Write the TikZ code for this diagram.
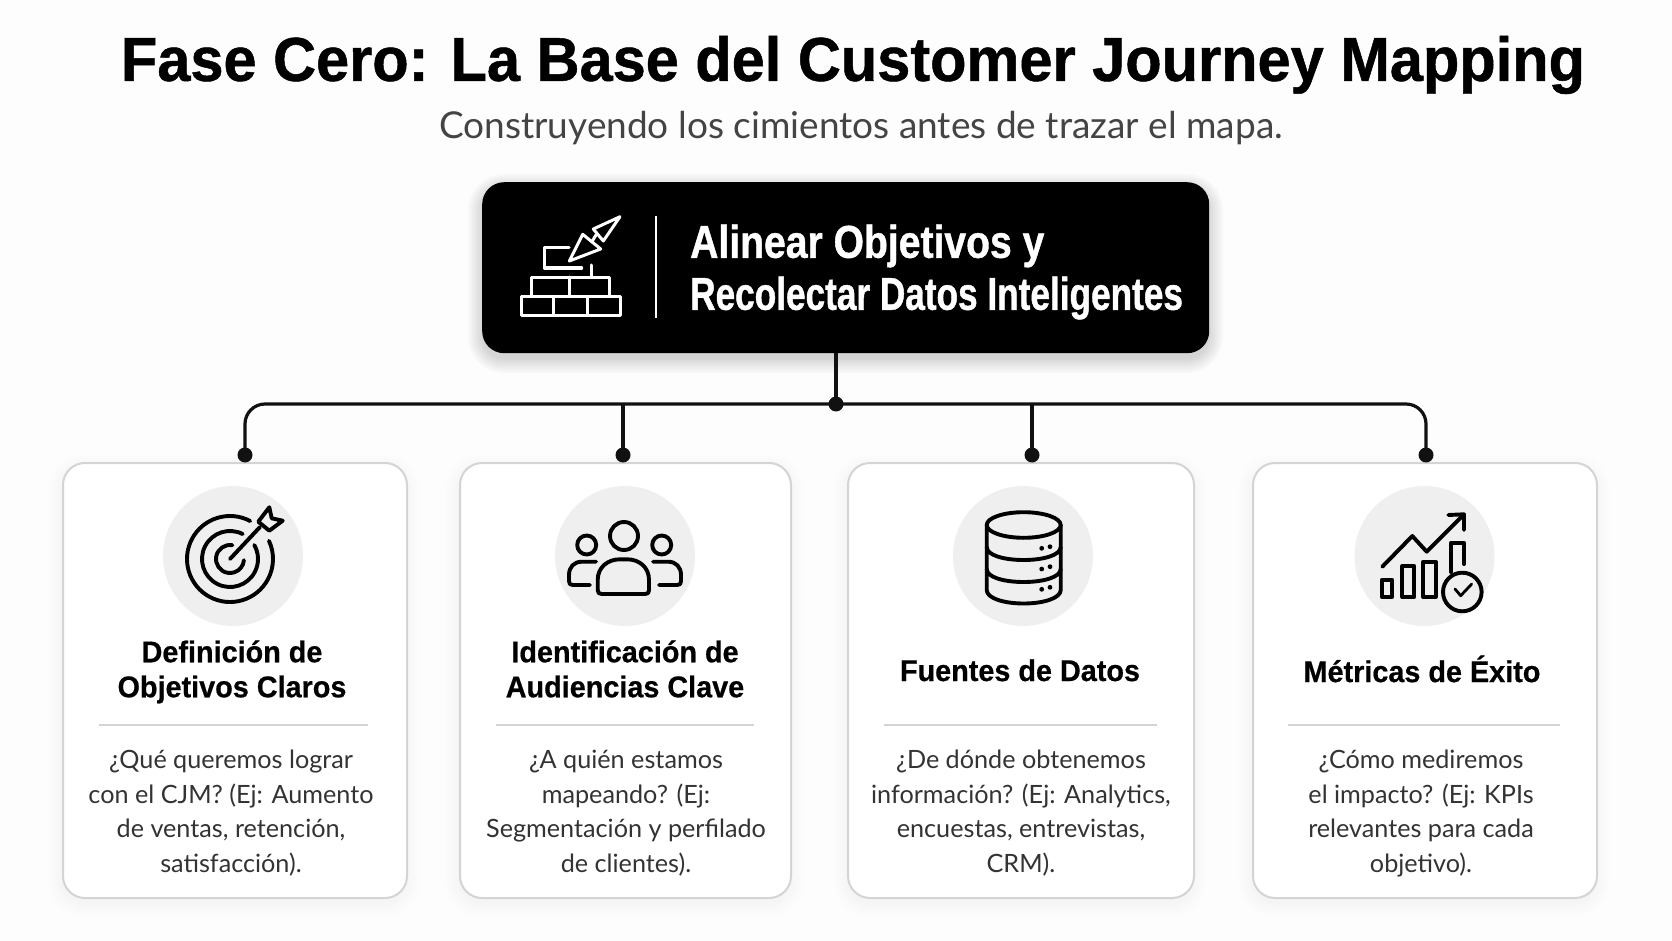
\documentclass[tikz,border=0pt]{standalone}
\usepackage{fontspec}
\setmainfont{Lato}
\newfontfamily\headfont{Liberation Sans}[BoldFeatures={FakeStretch=0.96,FakeBold=0.8}]
\newfontfamily\keyfont{Liberation Sans}[BoldFeatures={FakeStretch=0.765,FakeBold=0.9}]
\newfontfamily\keyfonta{Liberation Sans}[BoldFeatures={FakeStretch=0.85,FakeBold=0.9}]
\newfontfamily\cardfont{Liberation Sans}[BoldFeatures={FakeStretch=0.96,FakeBold=0.6}]
\definecolor{pagebg}{HTML}{FDFDFD}
\definecolor{cardline}{HTML}{D4D4D4}
\definecolor{discbg}{HTML}{EFEFEF}
\definecolor{inkc}{HTML}{111111}
\definecolor{bodyc}{HTML}{333333}
\definecolor{subc}{HTML}{444444}
\newcommand{\softshadow}[6]{%
  \foreach \sgrow in {0,2,...,14}{
    \fill[black,opacity=#6,rounded corners=#5+\sgrow*1pt]
      (#1-\sgrow,#2-\sgrow+6) rectangle (#3+\sgrow,#4+\sgrow+6);
  }}
\tikzset{
  x=1pt,y=-1pt,
  cardbox/.style={draw=cardline,line width=2pt,fill=white,rounded corners=22pt,inner sep=0pt,anchor=north west},
  keybox/.style={fill=black,rounded corners=22pt,inner sep=0pt,anchor=north west},
  disc/.style={circle,fill=discbg,minimum size=140pt,inner sep=0pt},
  conn/.style={draw=inkc,line width=3.2pt},
  jointdot/.style={circle,fill=inkc,minimum size=15pt,inner sep=0pt},
  titlet/.style={font=\cardfont\bfseries\fontsize{30}{35}\selectfont,text=black,align=center,inner sep=0pt,
    execute at begin node=\strut,execute at end node=\strut},
  bodyt/.style={font=\fontsize{25.2}{34.7}\selectfont,text=bodyc,align=center,inner sep=0pt,
    execute at begin node=\strut,execute at end node=\strut},
  rulel/.style={draw=cardline,line width=2pt},
  ico/.style={draw=black,line width=3.9pt,line cap=round,line join=round},
  icow/.style={draw=white,line width=3pt,line cap=round,line join=round},
}
\begin{document}
\begin{tikzpicture}
\useasboundingbox (0,0) rectangle (1672,941);
\fill[pagebg] (0,0) rectangle (1672,941);

\node[font=\headfont\bfseries\fontsize{62}{70}\selectfont,text=black,inner sep=0pt] (title) at (853,65) {Fase Cero: La Base del Customer Journey Mapping};
\node[font=\fontsize{37}{44}\selectfont,text=subc,inner sep=0pt] (subtitle) at (861,128) {Construyendo los cimientos antes de trazar el mapa.};

% shadows
\softshadow{482}{182}{1209}{353}{22}{0.018}
\softshadow{62}{462}{406}{897}{22}{0.004}
\softshadow{459}{462}{790}{897}{22}{0.004}
\softshadow{847}{462}{1193}{897}{22}{0.004}
\softshadow{1252}{462}{1596}{897}{22}{0.004}

% main box
\node[keybox,minimum width=727pt,minimum height=171pt] (key) at (482,182) {};
\draw[white,line width=2.4pt] (656,216) -- (656,318);
\node[font=\keyfont\bfseries\fontsize{46}{52}\selectfont,text=white,align=left,inner sep=0pt,anchor=west] (keytext) at (690,272) {{\keyfonta\bfseries Alinear Objetivos y}\\Recolectar Datos Inteligentes};

% brick wall and trowel
\draw[icow] (521.7,296.7) rectangle (620.7,315.7);
\draw[icow] (553.3,296.7) -- (553.3,315.7) (587.3,296.7) -- (587.3,315.7);
\draw[icow] (531.7,296.7) -- (531.7,277) -- (609,277) -- (609,296.7);
\draw[icow] (569,277) -- (569,296.7);
\draw[icow] (591,265) -- (591,277);
\draw[icow] (569,248) -- (544.3,248) -- (544.3,268) -- (581.7,268);
\draw[icow] (569.3,261) -- (582.7,234.3) -- (600.7,249) -- cycle;
\draw[icow] (593.3,229) -- (620,216.7) -- (603.3,241) -- cycle;
\draw[icow] (596,235) -- (591.7,242);

% cards
\node[cardbox,minimum width=344pt,minimum height=435pt] (c1) at (62,462) {};
\node[cardbox,minimum width=331pt,minimum height=435pt] (c2) at (459,462) {};
\node[cardbox,minimum width=346pt,minimum height=435pt] (c3) at (847,462) {};
\node[cardbox,minimum width=344pt,minimum height=435pt] (c4) at (1252,462) {};

% connectors
\node[jointdot] (hub) at (836,404) {};
\node[jointdot] (d1) at (245,455) {};
\node[jointdot] (d2) at (623,455) {};
\node[jointdot] (d3) at (1032,455) {};
\node[jointdot] (d4) at (1426,455) {};
\draw[conn] (key.south -| hub) -- (hub.center);
\draw[conn,rounded corners=20pt] (d1.center) |- (hub.center) -| (d4.center);
\draw[conn] (d2.center) -- (d2 |- hub);
\draw[conn] (d3.center) -- (d3 |- hub);

% discs
\node[disc] (i1) at (233,556) {};
\node[disc] (i2) at (625,556) {};
\node[disc] (i3) at (1023,556) {};
\node[disc] (i4) at (1424.5,556) {};

% target icon
\draw[ico] (230,559) ++(-62:43) arc[start angle=-62,delta angle=-323,radius=43];
\draw[ico] (230,559) ++(-63:28) arc[start angle=-63,delta angle=-327,radius=28];
\draw[ico] (230,559) ++(-80:14) arc[start angle=-80,delta angle=-275,radius=14];
\draw[ico] (230,559) -- (260,527);
\draw[ico] (258.3,521.7) -- (269.3,507.3) -- (271.7,518.3) -- (282.7,520.7) -- (269.3,530.7) -- cycle;

% people icon
\draw[ico] (624,536) circle[radius=14];
\draw[ico] (586.7,545) circle[radius=9.5];
\draw[ico] (661.7,545) circle[radius=9.5];
\draw[ico] (597.7,590) -- (597.7,580) .. controls (597.7,567) and (608,559.3) .. (620,559.3) -- (627,559.3) .. controls (639,559.3) and (649,567) .. (649,580) -- (649,590) .. controls (649,593) and (648,594) .. (645,594) -- (602,594) .. controls (599,594) and (597.7,593) .. (597.7,590) -- cycle;
\draw[ico] (596,561.7) -- (582,561.7) .. controls (574,561.7) and (569,567) .. (569,575) -- (569,581) .. controls (569,584) and (570,585) .. (573,585) -- (590,585);
\draw[ico] (653,561.7) -- (668,561.7) .. controls (676,561.7) and (681,567) .. (681,575) -- (681,581) .. controls (681,584) and (680,585) .. (677,585) -- (659,585);

% database icon
\draw[ico] (1023.7,525) ellipse[x radius=37,y radius=12.8];
\draw[ico] (986.7,525) -- (986.7,590) .. controls (986.7,598) and (1003,603.5) .. (1023.7,603.5) .. controls (1044,603.5) and (1060.7,598) .. (1060.7,590) -- (1060.7,525);
\draw[ico] (986.7,547) .. controls (986.7,555) and (1003,560) .. (1023.7,560) .. controls (1044,560) and (1060.7,555) .. (1060.7,547);
\draw[ico] (986.7,569) .. controls (986.7,577) and (1003,582) .. (1023.7,582) .. controls (1044,582) and (1060.7,577) .. (1060.7,569);
\fill[black] (1041.7,548.3) circle[radius=2.4] (1050,546.7) circle[radius=2.4]
  (1041.7,569) circle[radius=2.4] (1050,566.7) circle[radius=2.4]
  (1041.7,589.3) circle[radius=2.4] (1050,587.3) circle[radius=2.4];

% metrics icon
\draw[ico] (1382.3,566.7) -- (1412.3,536) -- (1426.7,551.7) -- (1463.3,515);
\draw[ico] (1448.3,515) -- (1464,514.3) -- (1464,530);
\draw[ico] (1381.7,580) rectangle (1392.3,596.7);
\draw[ico] (1402.3,566) rectangle (1414.3,597);
\draw[ico] (1423.3,561.7) rectangle (1435.7,597);
\draw[ico] (1451,572) -- (1451,542.7) -- (1464,542.7) -- (1464,564);
\draw[ico] (1462.3,592) circle[radius=19.3];
\draw[ico,line width=2.8pt] (1455,589) -- (1460.7,595.7) -- (1471.7,584);

% card titles
\node[titlet] (t1) at (232,674) {Definición de\\Objetivos Claros};
\node[titlet] (t2) at (625,674) {Identificación de\\Audiencias Clave};
\node[titlet] (t3) at (1020,674) {Fuentes de Datos};
\node[titlet] (t4) at (1422,674) {Métricas de Éxito};

% rules
\coordinate (r1a) at (99,725);\coordinate (r1b) at (368,725);
\coordinate (r2a) at (496,725);\coordinate (r2b) at (754,725);
\coordinate (r3a) at (884,725);\coordinate (r3b) at (1157,725);
\coordinate (r4a) at (1288,725);\coordinate (r4b) at (1560,725);
\draw[rulel] (r1a) -- (r1b);
\draw[rulel] (r2a) -- (r2b);
\draw[rulel] (r3a) -- (r3b);
\draw[rulel] (r4a) -- (r4b);

% card text
\node[bodyt] (b1) at (231,816.5) {¿Qué queremos lograr\\con el CJM? (Ej: Aumento\\de ventas, retención,\\satisfacción).};
\node[bodyt] (b2) at (626,816.5) {¿A quién estamos\\mapeando? (Ej:\\Segmentación y perfilado\\de clientes).};
\node[bodyt] (b3) at (1021,816.5) {¿De dónde obtenemos\\información? (Ej: Analytics,\\encuestas, entrevistas,\\CRM).};
\node[bodyt] (b4) at (1421,816.5) {¿Cómo mediremos\\el impacto? (Ej: KPIs\\relevantes para cada\\objetivo).};
\end{tikzpicture}
\end{document}
